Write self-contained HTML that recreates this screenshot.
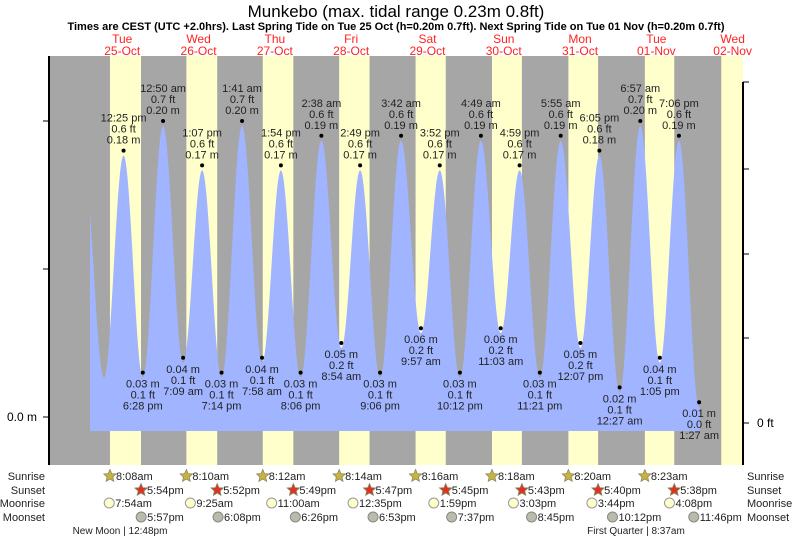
<!DOCTYPE html>
<html><head><meta charset="utf-8"><style>
html,body{margin:0;padding:0;background:#fff;width:793px;height:539px;overflow:hidden}
svg{display:block;font-family:"Liberation Sans",sans-serif}
</style></head><body>
<svg id="chart" width="793" height="539">
<text x="396" y="17" text-anchor="middle" font-size="17" fill="#000">Munkebo (max. tidal range 0.23m 0.8ft)</text>
<text x="396" y="30" text-anchor="middle" font-size="11" font-weight="bold" fill="#000">Times are CEST (UTC +2.0hrs). Last Spring Tide on Tue 25 Oct (h=0.20m 0.7ft). Next Spring Tide on Tue 01 Nov (h=0.20m 0.7ft)</text>
<g id="bg"></g><g id="tide"></g><g id="labels"></g><g id="axes"></g><g id="astro"></g>
</svg>
<script>
// data
const dayNames = ["Tue","Wed","Thu","Fri","Sat","Sun","Mon","Tue","Wed"];
const dayDates = ["25-Oct","26-Oct","27-Oct","28-Oct","29-Oct","30-Oct","31-Oct","01-Nov","02-Nov"];
const sunriseH = [8+8/60,8+10/60,8+12/60,8+14/60,8+16/60,8+18/60,8+20/60,8+23/60,8+25/60];
const sunsetH = [17+54/60,17+52/60,17+49/60,17+47/60,17+45/60,17+43/60,17+40/60,17+38/60,17+36/60];
const sunriseLbl = ["8:08am","8:10am","8:12am","8:14am","8:16am","8:18am","8:20am","8:23am"];
const sunsetLbl = ["5:54pm","5:52pm","5:49pm","5:47pm","5:45pm","5:43pm","5:40pm","5:38pm"];
const moonriseH = [7+54/60,9+25/60,11,12+35/60,13+59/60,15+3/60,15+44/60,16+8/60];
const moonriseLbl = ["7:54am","9:25am","11:00am","12:35pm","1:59pm","3:03pm","3:44pm","4:08pm"];
const moonsetH = [17+57/60,18+8/60,18+26/60,18+53/60,19+37/60,20+45/60,22+12/60,23+46/60];
const moonsetLbl = ["5:57pm","6:08pm","6:26pm","6:53pm","7:37pm","8:45pm","10:12pm","11:46pm"];
// tide extrema: hours from Tue 25 Oct 00:00
const tideHours = [-0.2,6.25,12+25/60,18+28/60,24+50/60,31+9/60,37+7/60,43+14/60,49+41/60,55+58/60,61+54/60,68+6/60,74+38/60,80+54/60,86+49/60,93+6/60,99+42/60,105+57/60,111+52/60,118+12/60,124+49/60,131+3/60,136+59/60,143+21/60,149+55/60,156+7/60,162+5/60,168+27/60,174+57/60,181+5/60,187+6/60,193+27/60,199];
const tideM = [0.175,0.03,0.18,0.03,0.20,0.04,0.17,0.03,0.20,0.04,0.17,0.03,0.19,0.05,0.17,0.03,0.19,0.06,0.17,0.03,0.19,0.06,0.17,0.03,0.19,0.05,0.18,0.02,0.20,0.04,0.19,0.01,0.15];
const tideFt = ["","","0.6","0.1","0.7","0.1","0.6","0.1","0.7","0.1","0.6","0.1","0.6","0.2","0.6","0.1","0.6","0.2","0.6","0.1","0.6","0.2","0.6","0.1","0.6","0.2","0.6","0.1","0.7","0.1","0.6","0.0",""];
const tideTimeLbl = ["","","12:25 pm","6:28 pm","12:50 am","7:09 am","1:07 pm","7:14 pm","1:41 am","7:58 am","1:54 pm","8:06 pm","2:38 am","8:54 am","2:49 pm","9:06 pm","3:42 am","9:57 am","3:52 pm","10:12 pm","4:49 am","11:03 am","4:59 pm","11:21 pm","5:55 am","12:07 pm","6:05 pm","12:27 am","6:57 am","1:05 pm","7:06 pm","1:27 am",""];
const rightTickLbl = ["0 ft"];

const NS="http://www.w3.org/2000/svg";
const X0=84.1, PXH=76.3/24, Y0=417, PXM=1480;
const L=50, R=743, T=56, B=465;
const xs=h=>X0+h*PXH, ys=m=>Y0-m*PXM;
function mk(tag,attrs,parent,text){const e=document.createElementNS(NS,tag);for(const k in attrs)e.setAttribute(k,attrs[k]);if(text!==undefined)e.textContent=text;parent.appendChild(e);return e;}
const bg=document.getElementById('bg'),tide=document.getElementById('tide'),lab=document.getElementById('labels'),ax=document.getElementById('axes'),astro=document.getElementById('astro');

let r=mk('rect',{x:L,y:T,width:R-L,height:B-T,fill:'#a6a6a6'},bg);


for(let d=0;d<9;d++){
  const x1=Math.max(L,xs(d*24+sunriseH[d])),x2=Math.min(R,xs(d*24+sunsetH[d]));
  const dr=mk('rect',{x:x1,y:T,width:x2-x1,height:B-T,fill:'#ffffcc'},bg);
  
  
  const cx=xs(d*24+12);
  const t1=mk('text',{x:cx,y:43,'text-anchor':'middle','font-size':12,fill:'#ff2222'},lab,dayNames[d]);
  
  
  const t2=mk('text',{x:cx,y:55,'text-anchor':'middle','font-size':12,fill:'#ff2222'},lab,dayDates[d]);
  
  
}
// tide curve
let pts=[];
const xa=90, xb=700;
for(let x=xa;x<=xb;x+=0.5){
  const h=(x-X0)/PXH;
  let i=0;while(i<tideHours.length-2&&tideHours[i+1]<h)i++;
  const f=(h-tideHours[i])/(tideHours[i+1]-tideHours[i]);
  const m=tideM[i]+(tideM[i+1]-tideM[i])*(1-Math.cos(Math.PI*Math.min(1,Math.max(0,f))))/2;
  pts.push(x.toFixed(1)+','+(ys(m)+5).toFixed(1));
}
const area=mk('path',{d:'M'+xa+',431 L'+pts.join(' L')+' L'+xb+',431 Z',fill:'#a0b4ff'},tide);


// extrema labels
for(let i=2;i<tideHours.length-1;i++){
  const x=xs(tideHours[i]),y=ys(tideM[i]);
  const high=tideM[i]>0.1;
  const dot=mk('circle',{cx:x,cy:y,r:2,fill:'#000'},lab);
  
  
  const lines=high?[tideTimeLbl[i],tideFt[i]+' ft',tideM[i].toFixed(2)+' m']:[tideM[i].toFixed(2)+' m',tideFt[i]+' ft',tideTimeLbl[i]];
  const y0=high?y-29:y+15;
  lines.forEach((s,k)=>{
    const t=mk('text',{x:x,y:y0+k*11,'text-anchor':'middle','font-size':11,fill:'#222'},lab,s);
    
    
  });
}
// axes
let a=mk('line',{x1:49,y1:T,x2:49,y2:B,stroke:'#000','stroke-width':2},ax);

a=mk('line',{x1:743,y1:82,x2:743,y2:B,stroke:'#000','stroke-width':2},ax);

[0,0.1,0.2].forEach(m=>{const tk=mk('line',{x1:43,y1:ys(m),x2:49,y2:ys(m),stroke:'#000'},ax);
});
let t=mk('text',{x:37,y:421,'text-anchor':'end','font-size':12,fill:'#000'},ax,'0.0 m');

[82,169,254,338,423].forEach(y=>{const tk=mk('line',{x1:743,y1:y,x2:749,y2:y,stroke:'#000'},ax);
});
t=mk('text',{x:757,y:427,'font-size':12,fill:'#000'},ax,rightTickLbl[0]);

// astro rows
const rows=[['Sunrise',480],['Sunset',494],['Moonrise',507],['Moonset',521]];
rows.forEach(([n,y])=>{
  let a1=mk('text',{x:45,y:y,'text-anchor':'end','font-size':11,fill:'#222'},astro,n);
  
  let a2=mk('text',{x:747,y:y,'font-size':11,fill:'#222'},astro,n);
  
});
function star(cx,cy,fill){
  let p=[];for(let k=0;k<10;k++){const rr=k%2?3:6.5,an=-Math.PI/2+k*Math.PI/5;p.push((cx+rr*Math.cos(an)).toFixed(1)+','+(cy+rr*Math.sin(an)).toFixed(1));}
  return mk('polygon',{points:p.join(' '),fill:fill,stroke:'#886','stroke-width':0.8},astro);
}
for(let d=0;d<8;d++){
  let x=xs(d*24+sunriseH[d]);
  let s=star(x,476,'#c8b43c');
  let tt=mk('text',{x:x+6,y:480,'font-size':11,fill:'#222'},astro,sunriseLbl[d]);
  x=xs(d*24+sunsetH[d]);
  s=star(x,490,'#dd3322');
  tt=mk('text',{x:x+6,y:494,'font-size':11,fill:'#222'},astro,sunsetLbl[d]);
  x=xs(d*24+moonriseH[d]);
  s=mk('circle',{cx:x,cy:503,r:5,fill:'#ffffcc',stroke:'#999'},astro);
  tt=mk('text',{x:x+6,y:507,'font-size':11,fill:'#222'},astro,moonriseLbl[d]);
  x=xs(d*24+moonsetH[d]);
  s=mk('circle',{cx:x,cy:517,r:5,fill:'#bbbbaa',stroke:'#888'},astro);
  tt=mk('text',{x:x+6,y:521,'font-size':11,fill:'#222'},astro,moonsetLbl[d]);
}
t=mk('text',{x:120,y:534,'text-anchor':'middle','font-size':10,fill:'#222'},astro,'New Moon | 12:48pm');

t=mk('text',{x:636,y:534,'text-anchor':'middle','font-size':10,fill:'#222'},astro,'First Quarter | 8:37am');

</script>
</body></html>
